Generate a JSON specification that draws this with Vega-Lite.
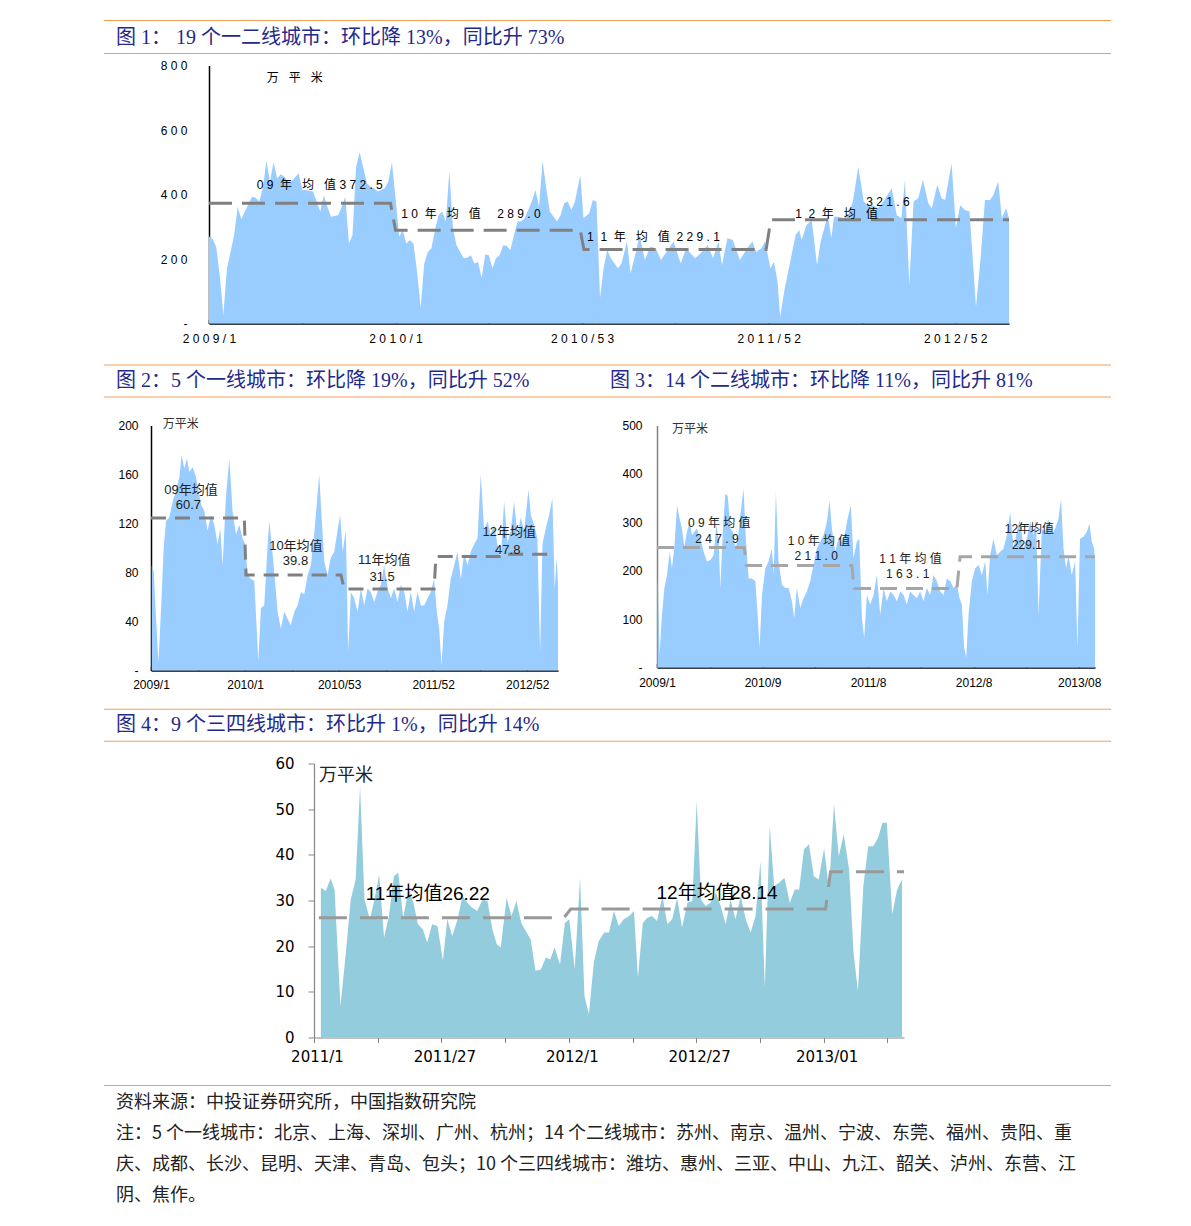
{
"$schema": "https://vega.github.io/schema/vega-lite/v6.json",
"background": "white",
"padding": {"left": 103, "top": 19.5, "right": 5, "bottom": 5},
"autosize": {"type": "pad"},
"spacing": 0,
"config": {"view": {"stroke": null}, "axis": {"grid": false}},
"datasets": {
"c1": [{"i":0,"v":270},{"i":1,"v":262},{"i":2,"v":238},{"i":3,"v":150},{"i":4,"v":26},{"i":5,"v":170},{"i":6,"v":222},{"i":7,"v":274},{"i":8,"v":362},{"i":9,"v":324},{"i":10,"v":347},{"i":12,"v":393},{"i":13,"v":390},{"i":14,"v":378},{"i":15,"v":419},{"i":16,"v":504},{"i":17,"v":440},{"i":18,"v":500},{"i":19,"v":450},{"i":20,"v":463},{"i":21,"v":455},{"i":22,"v":440},{"i":23,"v":440},{"i":25,"v":466},{"i":26,"v":414},{"i":27,"v":414},{"i":29,"v":409},{"i":30,"v":378},{"i":31,"v":347},{"i":32,"v":398},{"i":33,"v":362},{"i":34,"v":331},{"i":36,"v":336},{"i":37,"v":362},{"i":38,"v":393},{"i":39,"v":248},{"i":40,"v":274},{"i":41,"v":486},{"i":42,"v":531},{"i":44,"v":435},{"i":45,"v":424},{"i":46,"v":419},{"i":47,"v":409},{"i":49,"v":419},{"i":50,"v":440},{"i":51,"v":500},{"i":52,"v":388},{"i":53,"v":269},{"i":54,"v":290},{"i":55,"v":248},{"i":56,"v":259},{"i":57,"v":248},{"i":58,"v":160},{"i":59,"v":49},{"i":60,"v":186},{"i":61,"v":222},{"i":62,"v":233},{"i":63,"v":290},{"i":64,"v":336},{"i":65,"v":347},{"i":66,"v":316},{"i":67,"v":471},{"i":68,"v":295},{"i":69,"v":243},{"i":70,"v":222},{"i":71,"v":202},{"i":72,"v":204},{"i":73,"v":212},{"i":74,"v":186},{"i":75,"v":191},{"i":76,"v":142},{"i":77,"v":214},{"i":78,"v":212},{"i":79,"v":171},{"i":80,"v":202},{"i":81,"v":212},{"i":82,"v":243},{"i":83,"v":240},{"i":84,"v":228},{"i":85,"v":274},{"i":86,"v":316},{"i":87,"v":316},{"i":88,"v":326},{"i":90,"v":378},{"i":91,"v":414},{"i":92,"v":362},{"i":93,"v":504},{"i":94,"v":419},{"i":95,"v":347},{"i":97,"v":316},{"i":98,"v":336},{"i":99,"v":373},{"i":100,"v":378},{"i":101,"v":352},{"i":102,"v":378},{"i":103.5,"v":460},{"i":104.4,"v":326},{"i":106,"v":342},{"i":107,"v":383},{"i":108,"v":378},{"i":109,"v":80},{"i":110,"v":171},{"i":111,"v":228},{"i":112,"v":202},{"i":114,"v":171},{"i":115,"v":186},{"i":116.5,"v":254},{"i":117.5,"v":155},{"i":119,"v":222},{"i":120,"v":274},{"i":121.5,"v":197},{"i":123,"v":238},{"i":124.5,"v":233},{"i":126,"v":197},{"i":127.5,"v":222},{"i":129.5,"v":254},{"i":131.5,"v":186},{"i":133,"v":233},{"i":135.5,"v":202},{"i":137,"v":217},{"i":139,"v":243},{"i":140.5,"v":202},{"i":142,"v":254},{"i":143,"v":181},{"i":144.5,"v":264},{"i":146,"v":259},{"i":148,"v":197},{"i":150,"v":233},{"i":151.5,"v":254},{"i":152.5,"v":222},{"i":154,"v":233},{"i":155,"v":254},{"i":156.5,"v":171},{"i":157.5,"v":191},{"i":158.5,"v":129},{"i":159.2,"v":21},{"i":160.5,"v":109},{"i":162,"v":191},{"i":163.5,"v":274},{"i":164.5,"v":290},{"i":165.2,"v":259},{"i":166.5,"v":305},{"i":168,"v":321},{"i":169.5,"v":181},{"i":170.5,"v":254},{"i":171.5,"v":295},{"i":172.5,"v":336},{"i":173.5,"v":264},{"i":174.2,"v":331},{"i":175.5,"v":331},{"i":177,"v":326},{"i":178.2,"v":336},{"i":179.5,"v":378},{"i":181,"v":486},{"i":182.5,"v":378},{"i":184,"v":362},{"i":185,"v":367},{"i":186.5,"v":357},{"i":188,"v":378},{"i":190.3,"v":419},{"i":191.7,"v":336},{"i":193,"v":326},{"i":194,"v":445},{"i":195.2,"v":119},{"i":196.4,"v":378},{"i":197.7,"v":388},{"i":199,"v":445},{"i":200.5,"v":373},{"i":201.5,"v":357},{"i":203,"v":430},{"i":204.2,"v":388},{"i":205.2,"v":383},{"i":207,"v":497},{"i":208.2,"v":295},{"i":209.4,"v":367},{"i":210.7,"v":352},{"i":212,"v":347},{"i":213.8,"v":52},{"i":215,"v":191},{"i":216.3,"v":383},{"i":217.7,"v":383},{"i":218.6,"v":398},{"i":220,"v":440},{"i":221,"v":326},{"i":222.2,"v":357},{"i":223,"v":326}],
"m1": [{"i":0,"v":372.5},{"i":50.6,"v":372.5},{"i":52,"v":289},{"i":103.5,"v":289},{"i":104.5,"v":229.1},{"i":155.3,"v":229.1},{"i":156.6,"v":321.6},{"i":223,"v":321.6}],
"a1": [{"i":13.3,"v":429,"t":"0 9\u00a0 年\u00a0\u00a0 均\u00a0\u00a0 值 3 7 2 . 5"},{"i":53.6,"v":341,"t":"1 0\u00a0 年\u00a0\u00a0 均\u00a0\u00a0 值\u00a0\u00a0\u00a0\u00a0 2 8 9 . 0"},{"i":105.4,"v":268,"t":"1\u00a0 1\u00a0 年\u00a0\u00a0 均\u00a0\u00a0 值\u00a0 2 2 9 . 1"},{"i":163.4,"v":338,"t":"1\u00a0 2\u00a0 年\u00a0\u00a0 均\u00a0\u00a0 值"},{"i":183.2,"v":377,"t":"3 2 1 . 6"},{"i":16.1,"v":762,"t":"万\u00a0\u00a0 平\u00a0\u00a0 米"}],
"c2": [{"i":0.4,"v":86},{"i":1.5,"v":81},{"i":2.8,"v":42},{"i":4.1,"v":7},{"i":5.5,"v":48},{"i":7,"v":100},{"i":8.3,"v":122},{"i":10.1,"v":125},{"i":12,"v":138},{"i":13.8,"v":147},{"i":15.7,"v":158},{"i":16.9,"v":176},{"i":18.4,"v":165},{"i":19.9,"v":173},{"i":21.2,"v":162},{"i":23,"v":166},{"i":24.9,"v":158},{"i":26.2,"v":147},{"i":27.6,"v":136},{"i":29.5,"v":130},{"i":31.3,"v":114},{"i":33.1,"v":127},{"i":35,"v":119},{"i":36.8,"v":103},{"i":38.3,"v":116},{"i":39.6,"v":86},{"i":41.4,"v":141},{"i":43.3,"v":173},{"i":45.1,"v":130},{"i":47,"v":111},{"i":48.8,"v":119},{"i":50.6,"v":108},{"i":52.1,"v":103},{"i":53.4,"v":78},{"i":55.2,"v":75},{"i":57.1,"v":73},{"i":59.3,"v":8},{"i":60.8,"v":51},{"i":62.6,"v":53},{"i":64.5,"v":103},{"i":65.4,"v":122},{"i":66.7,"v":103},{"i":68.1,"v":81},{"i":70,"v":48},{"i":71.8,"v":34},{"i":73.7,"v":48},{"i":75.5,"v":42},{"i":77.3,"v":37},{"i":79.2,"v":48},{"i":81,"v":53},{"i":82.9,"v":64},{"i":84.7,"v":62},{"i":86.6,"v":78},{"i":88.4,"v":86},{"i":90.2,"v":111},{"i":92.1,"v":144},{"i":93,"v":160},{"i":93.9,"v":136},{"i":95.8,"v":89},{"i":97.6,"v":78},{"i":99.4,"v":92},{"i":101.3,"v":97},{"i":103.1,"v":114},{"i":104.6,"v":127},{"i":106,"v":97},{"i":107.7,"v":115},{"i":109,"v":15},{"i":110.5,"v":64},{"i":112.3,"v":59},{"i":114.2,"v":48},{"i":116,"v":67},{"i":117.9,"v":53},{"i":119.7,"v":67},{"i":121.5,"v":64},{"i":123.4,"v":56},{"i":125.2,"v":64},{"i":127.1,"v":70},{"i":128.9,"v":86},{"i":130.8,"v":67},{"i":132.6,"v":59},{"i":134.4,"v":67},{"i":136.3,"v":56},{"i":138.1,"v":70},{"i":140,"v":64},{"i":141.8,"v":48},{"i":143.6,"v":64},{"i":145.5,"v":48},{"i":147.3,"v":64},{"i":149.2,"v":53},{"i":151,"v":53},{"i":152.9,"v":59},{"i":154.7,"v":64},{"i":156.5,"v":75},{"i":158,"v":48},{"i":159.3,"v":34},{"i":160.6,"v":4},{"i":162.1,"v":40},{"i":163.9,"v":53},{"i":165.7,"v":75},{"i":167.6,"v":86},{"i":169.4,"v":97},{"i":171.3,"v":75},{"i":173.1,"v":95},{"i":175,"v":86},{"i":176.8,"v":97},{"i":178.6,"v":103},{"i":180.5,"v":108},{"i":182.3,"v":160},{"i":184.2,"v":114},{"i":186,"v":122},{"i":187.8,"v":111},{"i":189.7,"v":119},{"i":191.5,"v":103},{"i":193.4,"v":92},{"i":195.2,"v":138},{"i":197.1,"v":105},{"i":198.9,"v":114},{"i":200.7,"v":138},{"i":202.6,"v":111},{"i":204.4,"v":125},{"i":206.3,"v":114},{"i":208.7,"v":148},{"i":210,"v":127},{"i":211.8,"v":119},{"i":213.6,"v":108},{"i":215.1,"v":15},{"i":216.4,"v":103},{"i":218.2,"v":116},{"i":220.1,"v":127},{"i":221.9,"v":141},{"i":223.2,"v":67},{"i":224.3,"v":92},{"i":225,"v":70}],
"m2": [{"i":0,"v":124.5},{"i":51.6,"v":124.5},{"i":52.5,"v":78},{"i":105,"v":78},{"i":106.8,"v":66.5},{"i":156.5,"v":66.5},{"i":157.5,"v":93},{"i":193.4,"v":93},{"i":194,"v":95},{"i":222,"v":95}],
"a2": [{"i":22.1,"v":147.4,"t":"09年均值"},{"i":20.7,"v":135,"t":"60.7"},{"i":80.1,"v":101.4,"t":"10年均值"},{"i":79.9,"v":89,"t":"39.8"},{"i":128.9,"v":90.4,"t":"11年均值"},{"i":127.8,"v":76.7,"t":"31.5"},{"i":198,"v":113.1,"t":"12年均值"},{"i":197.2,"v":98.6,"t":"47.8"}],
"c3": [{"i":0.4,"v":191},{"i":1.5,"v":27},{"i":2.8,"v":109},{"i":4.2,"v":164},{"i":5.7,"v":191},{"i":7.2,"v":239},{"i":8.5,"v":205},{"i":9.8,"v":246},{"i":11.4,"v":335},{"i":12.9,"v":307},{"i":14.2,"v":287},{"i":15.5,"v":249},{"i":17,"v":280},{"i":18.6,"v":301},{"i":19.9,"v":273},{"i":21.2,"v":280},{"i":22.7,"v":287},{"i":24.6,"v":266},{"i":26.5,"v":239},{"i":28.4,"v":219},{"i":30.3,"v":222},{"i":32.2,"v":232},{"i":33.7,"v":294},{"i":35,"v":266},{"i":36,"v":164},{"i":37.5,"v":287},{"i":38.8,"v":359},{"i":40.2,"v":355},{"i":41.7,"v":287},{"i":43.2,"v":280},{"i":44.5,"v":246},{"i":45.8,"v":260},{"i":47.3,"v":314},{"i":49.2,"v":369},{"i":50.6,"v":260},{"i":52.1,"v":184},{"i":54,"v":184},{"i":55.9,"v":178},{"i":57.2,"v":109},{"i":58.3,"v":41},{"i":59.7,"v":150},{"i":61.6,"v":205},{"i":63.4,"v":219},{"i":65.3,"v":246},{"i":66.3,"v":191},{"i":67.6,"v":362},{"i":69.1,"v":219},{"i":71,"v":171},{"i":72.9,"v":164},{"i":74.8,"v":164},{"i":76.7,"v":137},{"i":78,"v":102},{"i":79.5,"v":164},{"i":81.4,"v":123},{"i":83.3,"v":143},{"i":85.2,"v":157},{"i":87.1,"v":178},{"i":89,"v":212},{"i":90.9,"v":246},{"i":92.8,"v":260},{"i":94.7,"v":273},{"i":96.6,"v":301},{"i":98.1,"v":345},{"i":99.4,"v":287},{"i":101.3,"v":239},{"i":103.2,"v":266},{"i":105.1,"v":260},{"i":107,"v":280},{"i":108.3,"v":307},{"i":110.2,"v":335},{"i":111.7,"v":225},{"i":113.6,"v":260},{"i":115,"v":266},{"i":116.5,"v":102},{"i":117.8,"v":61},{"i":119.3,"v":150},{"i":121.2,"v":130},{"i":123.1,"v":150},{"i":125,"v":191},{"i":126.9,"v":109},{"i":128.8,"v":164},{"i":130.7,"v":137},{"i":132.6,"v":157},{"i":134.5,"v":150},{"i":136.4,"v":137},{"i":138.3,"v":157},{"i":140.2,"v":150},{"i":142,"v":130},{"i":143.9,"v":157},{"i":145.8,"v":150},{"i":147.7,"v":143},{"i":149.6,"v":157},{"i":151.5,"v":137},{"i":153.4,"v":164},{"i":155.3,"v":150},{"i":157.2,"v":191},{"i":159.1,"v":178},{"i":161,"v":157},{"i":162.9,"v":150},{"i":164.8,"v":184},{"i":166.7,"v":178},{"i":168.6,"v":164},{"i":170.5,"v":171},{"i":172,"v":143},{"i":173.3,"v":130},{"i":174.6,"v":41},{"i":175.8,"v":20},{"i":177.1,"v":109},{"i":179,"v":178},{"i":180.9,"v":205},{"i":182.8,"v":212},{"i":184.7,"v":191},{"i":186.6,"v":219},{"i":187.9,"v":150},{"i":189.4,"v":232},{"i":191.3,"v":266},{"i":193.2,"v":232},{"i":195.1,"v":239},{"i":197,"v":246},{"i":198.9,"v":273},{"i":200.8,"v":321},{"i":202.7,"v":246},{"i":204.5,"v":280},{"i":206.4,"v":307},{"i":208.3,"v":246},{"i":210.2,"v":266},{"i":212.1,"v":301},{"i":214,"v":273},{"i":215.5,"v":307},{"i":216.9,"v":109},{"i":218.8,"v":287},{"i":220.6,"v":280},{"i":222.5,"v":307},{"i":224.4,"v":273},{"i":226.3,"v":287},{"i":228.2,"v":307},{"i":229.7,"v":348},{"i":231.1,"v":246},{"i":232.6,"v":205},{"i":233.9,"v":232},{"i":235.8,"v":191},{"i":237.7,"v":219},{"i":239,"v":41},{"i":240.5,"v":266},{"i":242.4,"v":270},{"i":244.3,"v":280},{"i":245.8,"v":297},{"i":247.2,"v":260},{"i":248.5,"v":246},{"i":249,"v":225}],
"m3": [{"i":0,"v":248},{"i":49.6,"v":248},{"i":50.8,"v":211},{"i":110.8,"v":211},{"i":112.1,"v":163},{"i":170.5,"v":163},{"i":172.3,"v":229},{"i":249,"v":229}],
"a3": [{"i":35.4,"v":299,"t":"0 9 年 均 值"},{"i":34.1,"v":266,"t":"2 4 7 . 9"},{"i":92.1,"v":262,"t":"1 0 年 均 值"},{"i":90.5,"v":231,"t":"2 1 1 . 0"},{"i":144.1,"v":224,"t":"1 1 年 均 值"},{"i":142.5,"v":193,"t":"1 6 3 . 1"},{"i":211.7,"v":287,"t":"12年均值"},{"i":210.3,"v":254,"t":"229.1"}],
"c4": [{"i":1.4,"v":32.8},{"i":2.4,"v":32.1},{"i":3.4,"v":34.8},{"i":4.2,"v":32.4},{"i":5.4,"v":6.9},{"i":6.5,"v":18.6},{"i":7.5,"v":30.2},{"i":8.5,"v":34.6},{"i":9.4,"v":55},{"i":10.3,"v":30.2},{"i":11.4,"v":25.9},{"i":12.2,"v":29.5},{"i":13.3,"v":35.7},{"i":14.3,"v":21.9},{"i":15.3,"v":26.6},{"i":16.3,"v":35.3},{"i":17.2,"v":36.1},{"i":18.2,"v":26.2},{"i":19.3,"v":32.4},{"i":20.3,"v":29.5},{"i":21.2,"v":24.8},{"i":22.2,"v":23.7},{"i":23.1,"v":20.8},{"i":24.1,"v":24.8},{"i":25.2,"v":24.4},{"i":26.3,"v":16.8},{"i":27.2,"v":25.9},{"i":28.2,"v":22.2},{"i":29.3,"v":25.9},{"i":30.3,"v":31},{"i":31.3,"v":29.5},{"i":32.3,"v":28.4},{"i":33.3,"v":27.7},{"i":34.4,"v":30.2},{"i":35.4,"v":29.9},{"i":36.4,"v":23.7},{"i":37.3,"v":20.4},{"i":38.1,"v":19.7},{"i":39.3,"v":30.6},{"i":40.3,"v":26.6},{"i":41.3,"v":29.9},{"i":42.3,"v":25.1},{"i":43.2,"v":23.3},{"i":44.2,"v":21.5},{"i":45.2,"v":14.6},{"i":46.3,"v":14.9},{"i":47.3,"v":17.5},{"i":48.2,"v":17.1},{"i":49.1,"v":19.7},{"i":50.2,"v":16},{"i":51.2,"v":25.1},{"i":52.1,"v":25.9},{"i":53.2,"v":14.9},{"i":54.3,"v":35},{"i":55.2,"v":9.1},{"i":56.1,"v":5.1},{"i":57.1,"v":16.4},{"i":58.1,"v":21.1},{"i":59.2,"v":23},{"i":60.2,"v":23},{"i":61.2,"v":27.7},{"i":62.2,"v":24.4},{"i":63.2,"v":25.9},{"i":64.3,"v":26.6},{"i":65.3,"v":27.7},{"i":66.1,"v":13.1},{"i":67.1,"v":25.1},{"i":68,"v":26.2},{"i":69,"v":26.6},{"i":70,"v":25.5},{"i":71.1,"v":31},{"i":72.1,"v":24.8},{"i":73.1,"v":25.9},{"i":74.1,"v":30.6},{"i":75.1,"v":24.1},{"i":76.2,"v":29.5},{"i":77.2,"v":29.9},{"i":78.1,"v":51.7},{"i":79,"v":30.2},{"i":79.9,"v":28.8},{"i":80.9,"v":29.5},{"i":82,"v":31.7},{"i":83,"v":28.8},{"i":84,"v":24.8},{"i":85,"v":30.2},{"i":86,"v":25.9},{"i":87.1,"v":31},{"i":88.1,"v":25.9},{"i":89.1,"v":23},{"i":90.1,"v":26.6},{"i":91.1,"v":38.6},{"i":92,"v":10.9},{"i":93,"v":46.3},{"i":93.9,"v":33.2},{"i":94.9,"v":33.9},{"i":96,"v":35},{"i":97.1,"v":29.5},{"i":98.1,"v":32.4},{"i":99,"v":32.4},{"i":100,"v":41.2},{"i":101,"v":42.3},{"i":102,"v":35.3},{"i":103,"v":34.6},{"i":104.1,"v":41.5},{"i":105.1,"v":32.4},{"i":106.1,"v":51},{"i":107.1,"v":39.7},{"i":108.1,"v":44.5},{"i":109.2,"v":36.8},{"i":110.1,"v":18.6},{"i":111,"v":10.2},{"i":112.1,"v":33.2},{"i":113.1,"v":41.9},{"i":114.1,"v":41.9},{"i":115.1,"v":43.7},{"i":116,"v":47},{"i":116.9,"v":47},{"i":118,"v":27},{"i":119,"v":32.4},{"i":120,"v":34.6}],
"m4": [{"i":1.0,"v":26.22},{"i":51,"v":26.22},{"i":52.4,"v":28.14},{"i":104.4,"v":28.14},{"i":105.4,"v":36.3},{"i":120.4,"v":36.3}],
"a4": [{"i":10.55,"v":31.4,"t":"11年均值"},{"i":26.2,"v":31.4,"t":"26.22"},{"i":69.9,"v":31.7,"t":"12年均值"},{"i":84.9,"v":31.7,"t":"28.14"}]
},
"vconcat": [
{
 "width": 1007, "height": 39,
 "data": {"values": [{"caption": "图 1： 19 个一二线城市：环比降 13%，同比升 73%"}]},
 "layer": [
  {"mark": {"type": "rule", "color": "#F59D56", "strokeWidth": 1.2}, "encoding": {"y": {"datum": 1, "type": "quantitative", "scale": {"domain": [-0.1818, 1], "nice": false, "zero": false}, "axis": null}}},
  {"mark": {"type": "rule", "color": "#F59D56", "strokeWidth": 1.2}, "encoding": {"y": {"datum": 0, "type": "quantitative", "axis": null}}},
  {"mark": {"type": "text", "align": "left", "baseline": "middle", "dx": 12, "font": "Liberation Serif, Noto Sans CJK SC", "fontSize": 20, "fontWeight": "normal", "color": "#1F2A8A"}, "encoding": {"x": {"datum": 0, "type": "quantitative", "scale": {"domain": [0, 1]}, "axis": null}, "y": {"datum": 0.47, "type": "quantitative", "axis": null}, "text": {"field": "caption"}}}
 ]
},
{
 "spacing": 0,
 "hconcat": [
  {"width": 1, "height": 1, "data": {"values": [{}]}, "mark": {"type": "text", "fontSize": 1}, "encoding": {"text": {"value": ""}}},
  {
   "width": 800, "height": 258,
   "layer": [
    {"data": {"name": "c1"}, "mark": {"type": "area", "color": "#99CCFF"},
     "encoding": {
      "x": {"field": "i", "type": "quantitative", "title": null, "scale": {"domain": [0, 223], "nice": false, "zero": false},
       "axis": {"values": [0,26,52,78,104,130,156,182,208], "labelExpr": "datum.value==0?'2 0 0 9 / 1':datum.value==52?'2 0 1 0 / 1':datum.value==104?'2 0 1 0 / 5 3':datum.value==156?'2 0 1 1 / 5 2':datum.value==208?'2 0 1 2 / 5 2':''", "tickSize": -4, "labelPadding": 14, "tickColor": "#000", "tickWidth": 1.5, "domainColor": "#000", "domainWidth": 1.5, "labelFont": "Liberation Sans", "labelFontSize": 12, "labelColor": "#000", "labelFlush": false, "labelOverlap": false, "labelBound": false, "grid": false}},
      "y": {"field": "v", "type": "quantitative", "title": null, "scale": {"domain": [0, 800], "nice": false},
       "axis": {"values": [0,200,400,600,800], "labelExpr": "datum.value==0?'-\u00a0\u00a0\u00a0':datum.value==200?'2 0 0':datum.value==400?'4 0 0':datum.value==600?'6 0 0':'8 0 0'", "ticks": false, "labelPadding": 22, "domainColor": "#000", "domainWidth": 1.5, "labelFont": "Liberation Sans", "labelFontSize": 12, "labelColor": "#000", "minExtent": 104, "maxExtent": 104, "grid": false}}
     }},
    {"data": {"name": "m1"}, "mark": {"type": "line", "color": "#808080", "strokeWidth": 3, "strokeDash": [23, 10]},
     "encoding": {"x": {"field": "i", "type": "quantitative", "title": null}, "y": {"field": "v", "type": "quantitative", "title": null}}},
    {"data": {"name": "a1"}, "mark": {"type": "text", "align": "left", "baseline": "middle", "font": "Liberation Sans, Noto Sans CJK SC", "fontSize": 12, "color": "#000"},
     "encoding": {"x": {"field": "i", "type": "quantitative", "title": null}, "y": {"field": "v", "type": "quantitative", "title": null}, "text": {"field": "t"}}}
   ]
  }
 ]
},
{
 "width": 1007, "height": 72.5,
 "data": {"values": [{"cap2": "图 2：5 个一线城市：环比降 19%，同比升 52%", "cap3": "图 3：14 个二线城市：环比降 11%，同比升 81%"}]},
 "layer": [
  {"mark": {"type": "rule", "color": "#F59D56", "strokeWidth": 1.2}, "encoding": {"y": {"datum": 1, "type": "quantitative", "scale": {"domain": [-0.625, 1.6406], "nice": false, "zero": false}, "axis": null}}},
  {"mark": {"type": "rule", "color": "#F59D56", "strokeWidth": 1.2}, "encoding": {"y": {"datum": 0, "type": "quantitative", "axis": null}}},
  {"mark": {"type": "text", "align": "left", "baseline": "middle", "dx": 12, "font": "Liberation Serif, Noto Sans CJK SC", "fontSize": 20, "fontWeight": "normal", "color": "#1F2A8A"}, "encoding": {"x": {"datum": 0, "type": "quantitative", "scale": {"domain": [0, 1]}, "axis": null}, "y": {"datum": 0.5, "type": "quantitative", "axis": null}, "text": {"field": "cap2"}}},
  {"mark": {"type": "text", "align": "left", "baseline": "middle", "dx": 12, "font": "Liberation Serif, Noto Sans CJK SC", "fontSize": 20, "fontWeight": "normal", "color": "#1F2A8A"}, "encoding": {"x": {"datum": 0.4906, "type": "quantitative", "axis": null}, "y": {"datum": 0.5, "type": "quantitative", "axis": null}, "text": {"field": "cap3"}}}
 ]
},
{
 "spacing": 0,
 "hconcat": [
  {"width": 1, "height": 1, "data": {"values": [{}]}, "mark": {"type": "text", "fontSize": 1}, "encoding": {"text": {"value": ""}}},
  {
   "width": 407, "height": 245,
   "layer": [
    {"data": {"name": "c2"}, "mark": {"type": "area", "color": "#99CCFF"},
     "encoding": {
      "x": {"field": "i", "type": "quantitative", "title": null, "scale": {"domain": [0, 225], "nice": false, "zero": false},
       "axis": {"values": [0,26,52,78,104,130,156,182,208], "labelExpr": "datum.value==0?'2009/1':datum.value==52?'2010/1':datum.value==104?'2010/53':datum.value==156?'2011/52':datum.value==208?'2012/52':''", "tickSize": -4, "labelPadding": 13, "tickColor": "#000", "tickWidth": 1.5, "domainColor": "#000", "domainWidth": 1.5, "labelFont": "Liberation Sans", "labelFontSize": 12, "labelColor": "#000", "labelFlush": false, "labelOverlap": false, "labelBound": false, "grid": false}},
      "y": {"field": "v", "type": "quantitative", "title": null, "scale": {"domain": [0, 200], "nice": false},
       "axis": {"values": [0,40,80,120,160,200], "labelExpr": "datum.value==0?'-\u00a0\u00a0':datum.label", "ticks": false, "labelPadding": 13, "domainColor": "#000", "domainWidth": 1.5, "labelFont": "Liberation Sans", "labelFontSize": 12, "labelColor": "#000", "minExtent": 46, "maxExtent": 46, "grid": false}}
     }},
    {"data": {"name": "m2"}, "mark": {"type": "line", "color": "#808080", "strokeWidth": 3, "strokeDash": [15, 9]},
     "encoding": {"x": {"field": "i", "type": "quantitative", "title": null}, "y": {"field": "v", "type": "quantitative", "title": null}}},
    {"data": {"name": "a2"}, "mark": {"type": "text", "align": "center", "baseline": "middle", "font": "Liberation Sans, Noto Sans CJK SC", "fontSize": 13, "color": "#222"},
     "encoding": {"x": {"field": "i", "type": "quantitative", "title": null}, "y": {"field": "v", "type": "quantitative", "title": null}, "text": {"field": "t"}}},
    {"data": {"values": [{"i": 6.5, "v": 201.3, "t": "万平米"}]}, "mark": {"type": "text", "align": "left", "baseline": "middle", "font": "Noto Sans CJK SC", "fontSize": 12, "color": "#333"},
     "encoding": {"x": {"field": "i", "type": "quantitative", "title": null}, "y": {"field": "v", "type": "quantitative", "title": null}, "text": {"field": "t"}}}
   ]
  },
  {
   "width": 438, "height": 242,
   "layer": [
    {"data": {"name": "c3"}, "mark": {"type": "area", "color": "#99CCFF"},
     "encoding": {
      "x": {"field": "i", "type": "quantitative", "title": null, "scale": {"domain": [0, 249], "nice": false, "zero": false},
       "axis": {"values": [0,30,60,90,120,150,180,210,240], "labelExpr": "datum.value==0?'2009/1':datum.value==60?'2010/9':datum.value==120?'2011/8':datum.value==180?'2012/8':datum.value==240?'2013/08':''", "tickSize": -4, "labelPadding": 14, "tickColor": "#000", "tickWidth": 1.5, "domainColor": "#000", "domainWidth": 1.5, "labelFont": "Liberation Sans", "labelFontSize": 12, "labelColor": "#000", "labelFlush": false, "labelOverlap": false, "labelBound": false, "grid": false}},
      "y": {"field": "v", "type": "quantitative", "title": null, "scale": {"domain": [0, 500], "nice": false},
       "axis": {"values": [0,100,200,300,400,500], "labelExpr": "datum.value==0?'-\u00a0\u00a0':datum.label", "ticks": false, "labelPadding": 15, "domainColor": "#808080", "domainWidth": 1.5, "labelFont": "Liberation Sans", "labelFontSize": 12, "labelColor": "#000", "minExtent": 98, "maxExtent": 98, "grid": false}}
     }},
    {"data": {"name": "m3"}, "mark": {"type": "line", "color": "#A6A6A6", "strokeWidth": 3, "strokeDash": [17, 9]},
     "encoding": {"x": {"field": "i", "type": "quantitative", "title": null}, "y": {"field": "v", "type": "quantitative", "title": null}}},
    {"data": {"name": "a3"}, "mark": {"type": "text", "align": "center", "baseline": "middle", "font": "Liberation Sans, Noto Sans CJK SC", "fontSize": 12, "color": "#222"},
     "encoding": {"x": {"field": "i", "type": "quantitative", "title": null}, "y": {"field": "v", "type": "quantitative", "title": null}, "text": {"field": "t"}}},
    {"data": {"values": [{"i": 8.5, "v": 493, "t": "万平米"}]}, "mark": {"type": "text", "align": "left", "baseline": "middle", "font": "Noto Sans CJK SC", "fontSize": 12, "color": "#333"},
     "encoding": {"x": {"field": "i", "type": "quantitative", "title": null}, "y": {"field": "v", "type": "quantitative", "title": null}, "text": {"field": "t"}}}
   ]
  }
 ]
},
{
 "width": 1007, "height": 65.75,
 "data": {"values": [{"caption": "图 4：9 个三四线城市：环比升 1%，同比升 14%"}]},
 "layer": [
  {"mark": {"type": "rule", "color": "#F59D56", "strokeWidth": 1.2}, "encoding": {"y": {"datum": 1, "type": "quantitative", "scale": {"domain": [-0.4688, 1.5859], "nice": false, "zero": false}, "axis": null}}},
  {"mark": {"type": "rule", "color": "#F59D56", "strokeWidth": 1.2}, "encoding": {"y": {"datum": 0, "type": "quantitative", "axis": null}}},
  {"mark": {"type": "text", "align": "left", "baseline": "middle", "dx": 12, "font": "Liberation Serif, Noto Sans CJK SC", "fontSize": 20, "fontWeight": "normal", "color": "#1F2A8A"}, "encoding": {"x": {"datum": 0, "type": "quantitative", "scale": {"domain": [0, 1]}, "axis": null}, "y": {"datum": 0.5, "type": "quantitative", "axis": null}, "text": {"field": "caption"}}}
 ]
},
{
 "spacing": 0,
 "hconcat": [
  {"width": 1, "height": 1, "data": {"values": [{}]}, "mark": {"type": "text", "fontSize": 1}, "encoding": {"text": {"value": ""}}},
  {
   "width": 590, "height": 274,
   "layer": [
    {"data": {"name": "c4"}, "mark": {"type": "area", "color": "#93CDDD"},
     "encoding": {
      "x": {"field": "i", "type": "quantitative", "title": null, "scale": {"domain": [0, 120.4], "nice": false, "zero": false},
       "axis": {"values": [0,13,26,39,52,65,78,91,104,117], "labelExpr": "datum.value==0?'2011/1':datum.value==26?'2011/27':datum.value==52?'2012/1':datum.value==78?'2012/27':datum.value==104?'2013/01':''", "tickSize": 5, "labelPadding": 6.5, "labelOffset": 3, "tickColor": "#868686", "domainColor": "#868686", "domainWidth": 1.2, "labelFont": "DejaVu Sans", "labelFontSize": 15, "labelColor": "#000", "labelFlush": false, "labelOverlap": false, "labelBound": false, "grid": false}},
      "y": {"field": "v", "type": "quantitative", "title": null, "scale": {"domain": [0, 60], "nice": false},
       "axis": {"values": [0,10,20,30,40,50,60], "tickSize": 6, "labelPadding": 14, "tickColor": "#868686", "domainColor": "#868686", "domainWidth": 1.2, "labelFont": "DejaVu Sans", "labelFontSize": 15, "labelColor": "#000", "minExtent": 209, "maxExtent": 209, "grid": false}}
     }},
    {"data": {"name": "m4"}, "mark": {"type": "line", "color": "#999999", "strokeWidth": 3, "strokeDash": [28, 13]},
     "encoding": {"x": {"field": "i", "type": "quantitative", "title": null}, "y": {"field": "v", "type": "quantitative", "title": null}}},
    {"data": {"name": "a4"}, "mark": {"type": "text", "align": "left", "baseline": "middle", "font": "Liberation Sans, Noto Sans CJK SC", "fontSize": 19, "color": "#000"},
     "encoding": {"x": {"field": "i", "type": "quantitative", "title": null}, "y": {"field": "v", "type": "quantitative", "title": null}, "text": {"field": "t"}}},
    {"data": {"values": [{"i": 1.0, "v": 57.2, "t": "万平米"}]}, "mark": {"type": "text", "align": "left", "baseline": "middle", "font": "Noto Sans CJK SC", "fontSize": 18, "color": "#222"},
     "encoding": {"x": {"field": "i", "type": "quantitative", "title": null}, "y": {"field": "v", "type": "quantitative", "title": null}, "text": {"field": "t"}}}
   ]
  }
 ]
},
{
 "width": 1007, "height": 140,
 "data": {"values": [{"note": "资料来源：中投证券研究所，中国指数研究院\n注：5 个一线城市：北京、上海、深圳、广州、杭州；14 个二线城市：苏州、南京、温州、宁波、东莞、福州、贵阳、重\n庆、成都、长沙、昆明、天津、青岛、包头；10 个三四线城市：潍坊、惠州、三亚、中山、九江、韶关、泸州、东营、江\n阴、焦作。"}]},
 "layer": [
  {"mark": {"type": "rule", "color": "#F59D56", "strokeWidth": 1.2}, "encoding": {"y": {"datum": 1, "type": "quantitative", "scale": {"domain": [0, 1.17647], "nice": false, "zero": false}, "axis": null}}},
  {"mark": {"type": "text", "align": "left", "baseline": "top", "dx": 12, "font": "Noto Sans CJK SC", "fontSize": 18, "lineHeight": 31, "lineBreak": "\n", "color": "#222"}, "encoding": {"x": {"datum": 0, "type": "quantitative", "scale": {"domain": [0, 1]}, "axis": null}, "y": {"datum": 0.92857, "type": "quantitative", "axis": null}, "text": {"field": "note"}}}
 ]
}
]
}
